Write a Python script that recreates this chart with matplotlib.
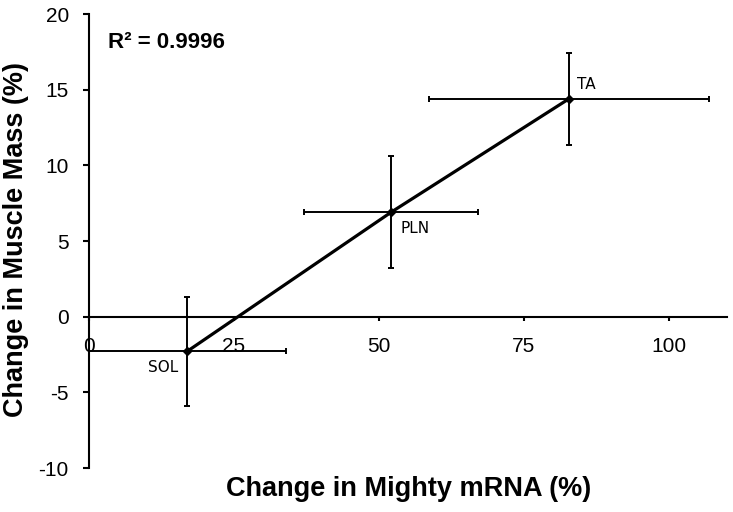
import matplotlib
matplotlib.use('Agg')
import matplotlib.pyplot as plt

plt.rcParams['axes.unicode_minus'] = False

# muscle data
muscles = ['SOL', 'PLN', 'TA']
mrna_change = [16.9, 52.1, 82.8]
mrna_err = [17.0, 15.0, 24.2]
mass_change = [-2.3, 6.9, 14.4]
mass_err = [3.6, 3.7, 3.05]
r_squared = 0.9996

x_ticks = [0, 25, 50, 75, 100]
y_ticks = [-10, -5, 0, 5, 10, 15, 20]

label_font = ['Liberation Sans', 'DejaVu Sans']
tick_font = ['Liberation Sans', 'DejaVu Sans']

fig = plt.figure(figsize=(7.33, 5.12), dpi=100)
ax = fig.add_axes([0.1214, 0.0859, 0.870, 0.8867])

# fitted line through the points
ax.plot(mrna_change, mass_change, color='black', lw=2.3, zorder=3)
ax.errorbar(mrna_change, mass_change, xerr=mrna_err, yerr=mass_err,
            fmt='D', ms=4.5, color='black', ecolor='black', elinewidth=1.4,
            capsize=2.5, capthick=1.4, zorder=4)

# point labels (offsets in points)
offsets = {'SOL': (-6.5, -11.5, 'right'), 'PLN': (6.5, -11.5, 'left'), 'TA': (6, 10, 'left')}
for name, x, y in zip(muscles, mrna_change, mass_change):
    dx, dy, ha = offsets[name]
    ax.annotate(name, (x, y), xytext=(dx, dy), textcoords='offset points',
                ha=ha, va='center', fontsize=11, family='DejaVu Sans')

ax.set_xlim(0, 110)
ax.set_ylim(-10, 20)
ax.set_xticks(x_ticks)
ax.set_yticks(y_ticks)

ax.spines['top'].set_visible(False)
ax.spines['right'].set_visible(False)
ax.spines['bottom'].set_position(('data', 0))
ax.spines['bottom'].set_linewidth(1.5)
ax.spines['left'].set_linewidth(1.5)
ax.tick_params(axis='y', direction='out', length=4.5, width=1.5, labelsize=15, pad=10)
ax.tick_params(axis='x', direction='out', length=3, width=1.5, labelsize=15, pad=11.5)
for lab in ax.get_xticklabels() + ax.get_yticklabels():
    lab.set_family(tick_font)

ax.text(0.030, 0.938, f'R² = {r_squared}', transform=ax.transAxes,
        fontsize=16, fontweight='bold', family=tick_font, va='center')

fig.text(0.557, 0.045, 'Change in Mighty mRNA (%)', ha='center', va='center',
         fontsize=19.5, fontweight='bold', family=label_font)
fig.text(0.022, 0.533, 'Change in Muscle Mass (%)', ha='center', va='center',
         rotation=90, fontsize=19.5, fontweight='bold', family=label_font)

fig.savefig('out.png', dpi=100)
